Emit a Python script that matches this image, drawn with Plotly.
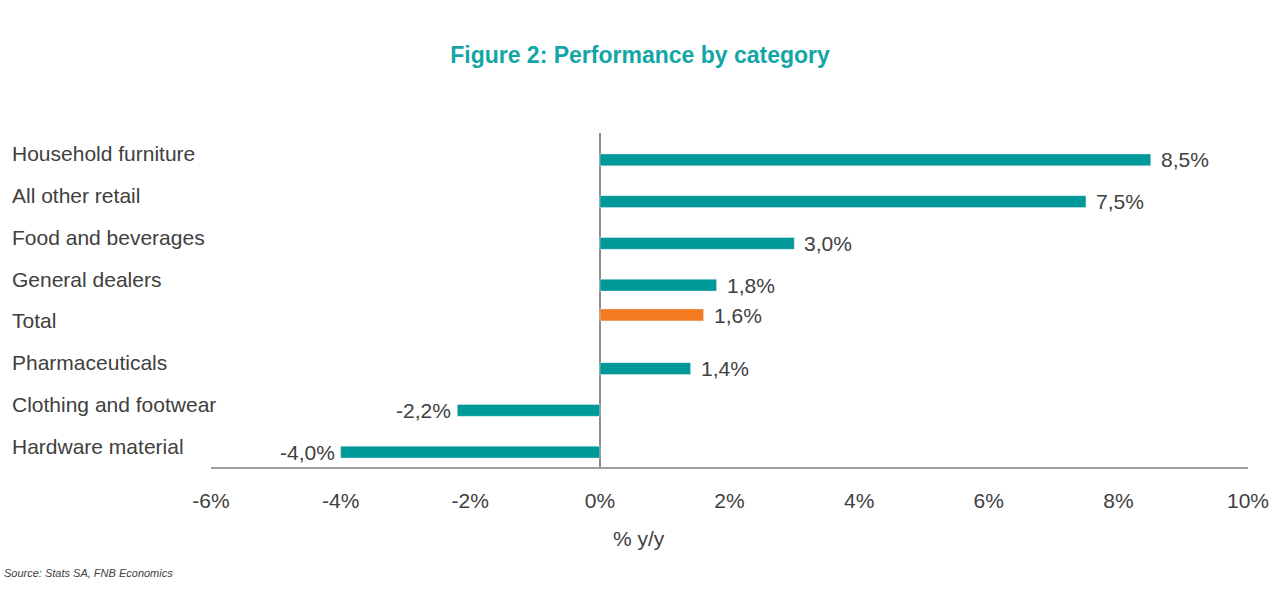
import plotly.graph_objects as go

categories = ["Household furniture", "All other retail", "Food and beverages", "General dealers",
              "Total", "Pharmaceuticals", "Clothing and footwear", "Hardware material"]
values = [8.5, 7.5, 3.0, 1.8, 1.6, 1.4, -2.2, -4.0]
highlight = "Total"

tick_vals = [-6, -4, -2, 0, 2, 4, 6, 8, 10]
tick_text = ["-6%", "-4%", "-2%", "0%", "2%", "4%", "6%", "8%", "10%"]

TEAL = "#009999"
ORANGE = "#F47B20"
TEXT = "#404040"
FONT = "Liberation Sans, Arial, sans-serif"

main_cats = [c for c in categories if c != highlight]
main_vals = [v for c, v in zip(categories, values) if c != highlight]
hl_vals = [v for c, v in zip(categories, values) if c == highlight]

W, H = 1281, 596
L, T = 211, 133
R = W - 1251
B = H - 467
plot_w = W - L - R
plot_h = H - T - B
bw = 0.287


def px_x(p):
    return (p - L) / plot_w


def px_y(p):
    return (T + plot_h - p) / plot_h


fig = go.Figure()
fig.add_trace(go.Bar(y=main_cats, x=main_vals, orientation="h", marker_color=TEAL,
                     width=bw, offset=0, hoverinfo="skip"))
fig.add_trace(go.Bar(y=[highlight], x=hl_vals, orientation="h", marker_color=ORANGE,
                     width=bw, offset=-bw, hoverinfo="skip"))

annotations = []
for c in categories:
    annotations.append(dict(x=px_x(9), xref="paper", y=c, yref="y", text=c,
                            xanchor="left", yanchor="middle", showarrow=False,
                            font=dict(family=FONT, size=21, color=TEXT)))
for c, v in zip(categories, values):
    txt = f"{v:.1f}%".replace(".", ",")
    ys = 5 if c == highlight else -6
    if v >= 0:
        annotations.append(dict(x=v, y=c, xref="x", yref="y", text=txt, xanchor="left",
                                yanchor="middle", xshift=8, yshift=ys, showarrow=False,
                                font=dict(family=FONT, size=21, color=TEXT)))
    else:
        annotations.append(dict(x=v, y=c, xref="x", yref="y", text=txt, xanchor="right",
                                yanchor="middle", xshift=-4, yshift=ys, showarrow=False,
                                font=dict(family=FONT, size=21, color=TEXT)))

annotations.append(dict(x=px_x(640), xref="paper", y=px_y(538), yref="paper",
                        text="% y/y", showarrow=False, xanchor="center", yanchor="middle",
                        font=dict(family=FONT, size=21, color=TEXT)))
annotations.append(dict(x=px_x(1), xref="paper", y=px_y(573), yref="paper",
                        text="<i>Source: Stats SA, FNB Economics</i>", showarrow=False,
                        xanchor="left", yanchor="middle",
                        font=dict(family=FONT, size=11, color=TEXT)))

fig.update_layout(
    width=W, height=H,
    margin=dict(l=L, r=R, t=T, b=B, pad=0),
    paper_bgcolor="white", plot_bgcolor="white",
    barmode="overlay", showlegend=False,
    title=dict(text="<b>Figure 2: Performance by category</b>", x=640 / W, xref="container",
               xanchor="center", y=1 - 55 / H, yref="container", yanchor="middle",
               font=dict(family=FONT, size=23, color="#14A5A6")),
    xaxis=dict(range=[-6, 10], tickvals=tick_vals, ticktext=tick_text, showgrid=False,
               showline=True, linecolor="#A0A0A0", linewidth=1.5,
               zeroline=True, zerolinecolor="#8C8C8C", zerolinewidth=1.5,
               ticks="", ticklabelstandoff=14,
               tickfont=dict(family=FONT, size=21, color=TEXT), fixedrange=True),
    yaxis=dict(type="category", categoryorder="array", categoryarray=categories,
               range=[len(categories) - 0.5, -0.5], showticklabels=False, showgrid=False,
               showline=False, zeroline=False, ticks="", fixedrange=True),
    annotations=annotations,
)

fig.write_html(
    "out.html",
    config={"displayModeBar": False, "responsive": False},
    post_script="document.body.style.margin='0';document.body.style.overflow='hidden';",
)
